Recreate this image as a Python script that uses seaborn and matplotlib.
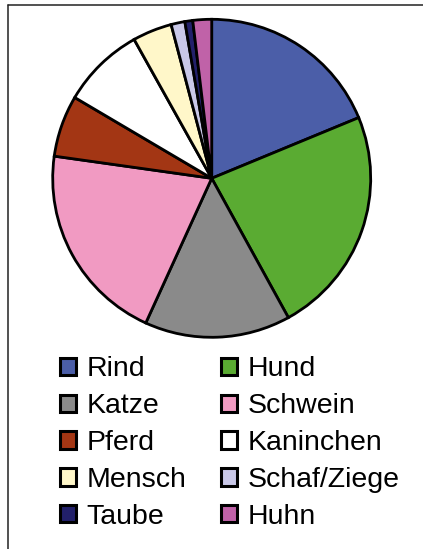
import matplotlib
matplotlib.use("Agg")
import matplotlib.pyplot as plt
import matplotlib.patches as mpatches
import seaborn as sns

categories = ["Rind", "Hund", "Katze", "Schwein", "Pferd", "Kaninchen",
              "Mensch", "Schaf/Ziege", "Taube", "Huhn"]
values = [18.75, 23.2, 14.8, 20.4, 6.25, 8.4, 4.0, 1.4, 0.8, 1.9]
colors = ["#4b5ea8", "#5aab32", "#8a8a8a", "#f19ac2", "#a33614", "#ffffff",
          "#fff7c9", "#c9c8e8", "#22206a", "#c062a8"]

sns.set_theme(style="white")
plt.rcParams["font.family"] = ["Liberation Sans", "DejaVu Sans"]

W, H = 423, 549
fig = plt.figure(figsize=(W / 100, H / 100), dpi=100)
fig.patch.set_facecolor("white")

cx, cy, r = 211.7, 178.3, 159
ax = fig.add_axes([(cx - r) / W, (H - cy - r) / H, 2 * r / W, 2 * r / H])
ax.pie(values, colors=colors, startangle=90, counterclock=False,
       wedgeprops=dict(edgecolor="black", linewidth=2.0), radius=1)
ax.set_xlim(-1.0, 1.0)
ax.set_ylim(-1.0, 1.0)
ax.set_aspect("equal")
ax.axis("off")

# frame (only top and left edges visible)
fig.add_artist(plt.Line2D([7.5 / W, 7.5 / W], [0, 1 - 4.5 / H],
                          transform=fig.transFigure, color="#222222", lw=1.1))
fig.add_artist(plt.Line2D([7.5 / W, 1], [1 - 4.5 / H, 1 - 4.5 / H],
                          transform=fig.transFigure, color="#222222", lw=1.1))

order = [0, 2, 4, 6, 8, 1, 3, 5, 7, 9]
handles = [mpatches.Patch(facecolor=colors[i], edgecolor="black", linewidth=2.2,
                          label=categories[i]) for i in order]
fs = 20.5
fig.legend(handles=handles, loc="upper left",
           bbox_to_anchor=(60 / W, 1 - 356.5 / H), ncol=2, frameon=False,
           fontsize=fs, handlelength=0.56, handleheight=0.56,
           handletextpad=0.38, columnspacing=1.2, labelspacing=0.38,
           borderpad=0, borderaxespad=0, labelcolor="black")

fig.savefig("out.png", dpi=100)
